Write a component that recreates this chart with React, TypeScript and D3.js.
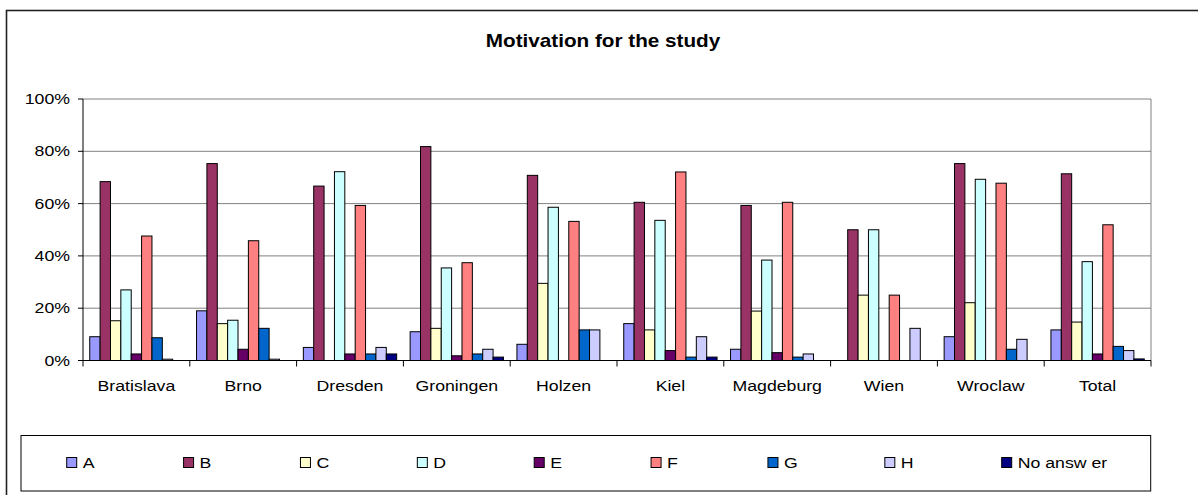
import { useMemo } from "react";
import * as d3 from "d3";

const categories = ["Bratislava", "Brno", "Dresden", "Groningen", "Holzen", "Kiel", "Magdeburg", "Wien", "Wroclaw", "Total"];
const seriesNames = ["A", "B", "C", "D", "E", "F", "G", "H", "No answ er"];
const seriesColors = ["#9999FF", "#993366", "#FFFFCC", "#CCFFFF", "#660066", "#FF8080", "#0066CC", "#CCCCFF", "#000080"];

// values in %, one array per series, in category order
const valuesA = [9.1, 19.0, 5.0, 11.0, 6.2, 14.1, 4.3, 0, 9.1, 11.7];
const valuesB = [68.4, 75.3, 66.7, 81.8, 70.8, 60.5, 59.3, 50.0, 75.3, 71.4];
const valuesC = [15.2, 14.1, 0, 12.3, 29.5, 11.7, 18.9, 25.0, 22.1, 14.7];
const valuesD = [27.0, 15.4, 72.2, 35.4, 58.6, 53.6, 38.4, 50.0, 69.3, 37.8];
const valuesE = [2.5, 4.3, 2.5, 1.8, 0, 3.8, 3.0, 0, 0, 2.5];
const valuesF = [47.6, 45.8, 59.3, 37.4, 53.2, 72.1, 60.5, 25.0, 67.8, 51.9];
const valuesG = [8.7, 12.3, 2.5, 2.5, 11.7, 1.3, 1.3, 0, 4.3, 5.4];
const valuesH = [0.5, 0.5, 5.0, 4.3, 11.7, 9.1, 2.5, 12.3, 8.1, 3.8];
const valuesNA = [0, 0, 2.5, 1.3, 0, 1.3, 0, 0, 0, 0.6];

const yTicks = [0, 20, 40, 60, 80, 100];

const allValues = [valuesA, valuesB, valuesC, valuesD, valuesE, valuesF, valuesG, valuesH, valuesNA];

const font = "'Liberation Sans', Arial, sans-serif";
const SX = 1.18;

function Txt({ x, y, size, anchor = "start", bold = false, sx = SX, children }: any) {
  return (
    <text
      transform={`translate(${x},${y}) scale(${sx},1)`}
      fontFamily={font}
      fontSize={size}
      fontWeight={bold ? "bold" : "normal"}
      textAnchor={anchor}
      fill="#000"
    >
      {children}
    </text>
  );
}

export default function App() {
  const W = 1198;
  const H = 495;
  const plot = { left: 83, right: 1151, top: 99, bottom: 360.5 };

  const x0 = useMemo(() => d3.scaleBand<string>().domain(categories).range([plot.left, plot.right]), []);
  const x1 = useMemo(
    () => d3.scaleBand<string>().domain(seriesNames).range([0, x0.bandwidth()]).paddingOuter(0.65).paddingInner(0),
    [x0]
  );
  const y = useMemo(() => d3.scaleLinear().domain([0, 100]).range([plot.bottom, plot.top]), []);

  const legendX = d3.scaleLinear().domain([0, seriesNames.length - 1]).range([66.7, 1001.7]);

  return (
    <svg width={W} height={H} style={{ position: "fixed", left: 0, top: 0, background: "#fff" }}>
      <rect x={0} y={0} width={W} height={H} fill="#fff" />
      {/* outer chart border */}
      <rect x={6.5} y={10.5} width={W + 10} height={H + 10} fill="none" stroke="#222" strokeWidth={1.6} />

      <Txt x={603} y={46.5} size={18} anchor="middle" bold sx={1.15}>
        Motivation for the study
      </Txt>

      {/* grid lines */}
      {yTicks.map((t) => (
        <line key={t} x1={plot.left} x2={plot.right} y1={y(t)} y2={y(t)} stroke="#808080" strokeWidth={1} />
      ))}
      {/* plot border (right) */}
      <line x1={plot.right} x2={plot.right} y1={plot.top} y2={plot.bottom} stroke="#808080" strokeWidth={1} />

      {/* bars */}
      {categories.map((c, ci) => (
        <g key={c}>
          {seriesNames.map((s, si) => {
            const v = allValues[si][ci];
            if (!v) return null;
            const bx = (x0(c) as number) + (x1(s) as number);
            return (
              <rect
                key={s}
                x={bx}
                y={y(v)}
                width={x1.bandwidth()}
                height={y(0) - y(v)}
                fill={seriesColors[si]}
                stroke="#000"
                strokeWidth={1}
              />
            );
          })}
        </g>
      ))}

      {/* y axis */}
      <line x1={plot.left} x2={plot.left} y1={plot.top} y2={plot.bottom} stroke="#000" strokeWidth={1} />
      {yTicks.map((t) => (
        <g key={t}>
          <line x1={plot.left - 5} x2={plot.left} y1={y(t)} y2={y(t)} stroke="#000" />
          <Txt x={70} y={y(t) + 5} size={15} anchor="end">
            {t}%
          </Txt>
        </g>
      ))}

      {/* x axis */}
      <line x1={plot.left} x2={plot.right} y1={plot.bottom} y2={plot.bottom} stroke="#000" strokeWidth={1} />
      {categories.map((c) => (
        <line
          key={c}
          x1={(x0(c) as number) + x0.bandwidth()}
          x2={(x0(c) as number) + x0.bandwidth()}
          y1={plot.bottom}
          y2={plot.bottom + 6}
          stroke="#000"
        />
      ))}
      <line x1={plot.left} x2={plot.left} y1={plot.bottom} y2={plot.bottom + 6} stroke="#000" />
      {categories.map((c) => (
        <Txt key={c} x={(x0(c) as number) + x0.bandwidth() / 2} y={390.5} size={15} anchor="middle">
          {c}
        </Txt>
      ))}

      {/* legend */}
      <rect x={21} y={435.5} width={1129.7} height={55.5} fill="#fff" stroke="#000" strokeWidth={1} />
      {seriesNames.map((s, i) => (
        <g key={s}>
          <rect x={legendX(i)} y={457.5} width={10} height={10} fill={seriesColors[i]} stroke="#000" strokeWidth={1} />
          <Txt x={legendX(i) + 16} y={467.7} size={15}>
            {s}
          </Txt>
        </g>
      ))}
    </svg>
  );
}
